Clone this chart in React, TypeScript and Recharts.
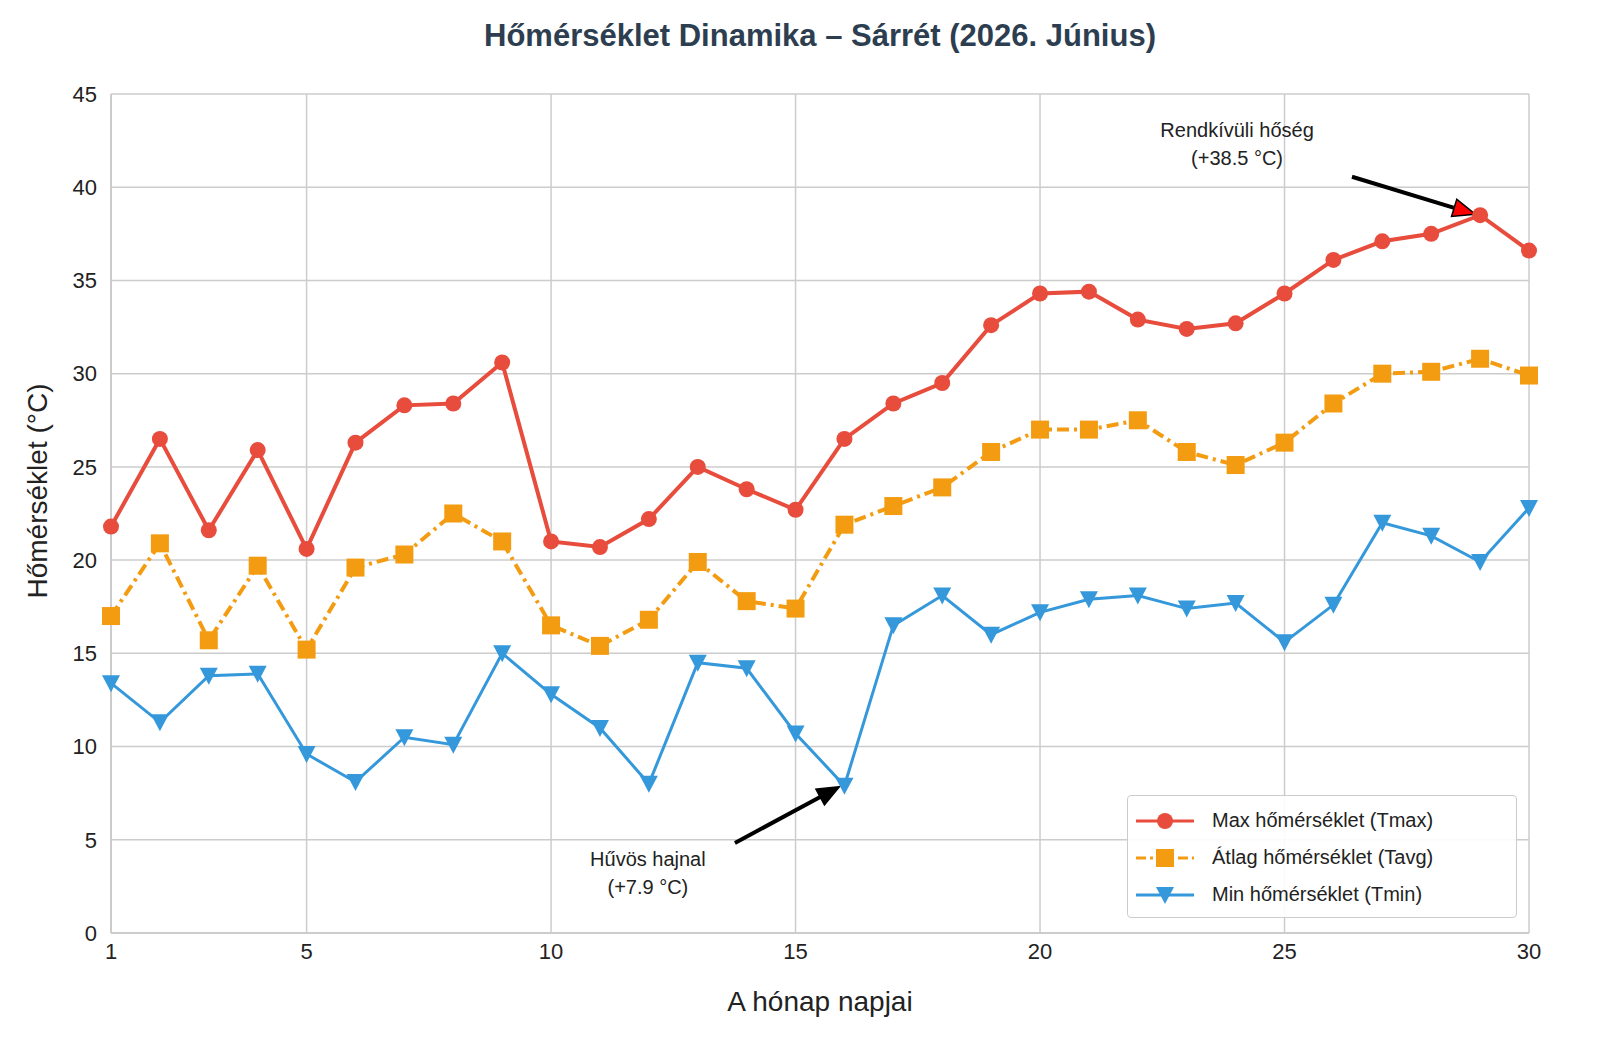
import React from 'react';
import { LineChart, Line, XAxis, YAxis, CartesianGrid, ReferenceLine, ReferenceDot } from 'recharts';

const days = Array.from({ length: 30 }, (_, i) => i + 1);
const tmax = [21.8, 26.5, 21.6, 25.9, 20.6, 26.3, 28.3, 28.4, 30.6, 21.0, 20.7, 22.2, 25.0, 23.8, 22.7, 26.5, 28.4, 29.5, 32.6, 34.3, 34.4, 32.9, 32.4, 32.7, 34.3, 36.1, 37.1, 37.5, 38.5, 36.6];
const tavg = [17.0, 20.9, 15.7, 19.7, 15.2, 19.6, 20.3, 22.5, 21.0, 16.5, 15.4, 16.8, 19.9, 17.8, 17.4, 21.9, 22.9, 23.9, 25.8, 27.0, 27.0, 27.5, 25.8, 25.1, 26.3, 28.4, 30.0, 30.1, 30.8, 29.9];
const tmin = [13.4, 11.3, 13.8, 13.9, 9.6, 8.1, 10.5, 10.1, 15.0, 12.8, 11.0, 8.0, 14.5, 14.2, 10.7, 7.9, 16.5, 18.1, 16.0, 17.2, 17.9, 18.1, 17.4, 17.7, 15.6, 17.6, 22.0, 21.3, 19.9, 22.8];
const xTicks = [1, 5, 10, 15, 20, 25, 30];
const yTicks = [0, 5, 10, 15, 20, 25, 30, 35, 40, 45];

const data = days.map((d, i) => ({ day: d, tmax: tmax[i], tavg: tavg[i], tmin: tmin[i] }));

const FONT = 'Arial, "Liberation Sans", sans-serif';
const RED = '#e74c3c', ORANGE = '#f39c12', BLUE = '#3498db';

const Circle = (p: any) => <circle cx={p.cx} cy={p.cy} r={8} fill={RED} />;
const Square = (p: any) => <rect x={p.cx - 9} y={p.cy - 9} width={18} height={18} fill={ORANGE} />;
const Tri = (p: any) => <polygon points={`${p.cx - 9},${p.cy - 8} ${p.cx + 9},${p.cy - 8} ${p.cx},${p.cy + 9}`} fill={BLUE} />;

const arrow = (fill: string) => (p: any) => {
  const { x1, y1, x2, y2 } = p;
  const a = Math.atan2(y2 - y1, x2 - x1);
  const L = 22, W = 9;
  const bx = x2 - L * Math.cos(a), by = y2 - L * Math.sin(a);
  const nx = -Math.sin(a) * W, ny = Math.cos(a) * W;
  return (
    <g>
      <line x1={x1} y1={y1} x2={bx} y2={by} stroke="#000" strokeWidth={4} />
      <polygon points={`${x2},${y2} ${bx + nx},${by + ny} ${bx - nx},${by - ny}`} fill={fill} stroke="#000" strokeWidth={1.5} />
    </g>
  );
};

const txt = (s: string) => (p: any) => (
  <text x={p.cx} y={p.cy} textAnchor="middle" dominantBaseline="middle" fontSize={20} fill="#222" fontFamily={FONT}>{s}</text>
);

const legendItems = [
  { label: 'Max hőmérséklet (Tmax)', color: RED, dash: undefined, M: Circle },
  { label: 'Átlag hőmérséklet (Tavg)', color: ORANGE, dash: '10 4 3 4', M: Square },
  { label: 'Min hőmérséklet (Tmin)', color: BLUE, dash: undefined, M: Tri },
];

const LegendBox = () => (
  <div style={{ position: 'absolute', left: 1127, top: 795, width: 390, height: 123, background: 'rgba(255,255,255,0.9)', border: '1px solid #ccc', borderRadius: 4, boxSizing: 'border-box', padding: '6px 0 0 6px', fontFamily: FONT, fontSize: 20, color: '#222' }}>
    {legendItems.map((it) => (
      <div key={it.label} style={{ display: 'flex', alignItems: 'center', height: 37 }}>
        <svg width={62} height={24}>
          <line x1={2} y1={12} x2={60} y2={12} stroke={it.color} strokeWidth={3} strokeDasharray={it.dash} />
          <it.M cx={31} cy={12} />
        </svg>
        <span style={{ marginLeft: 16 }}>{it.label}</span>
      </div>
    ))}
  </div>
);

export default function App() {
  return (
    <div style={{ position: 'absolute', left: 0, top: 0, width: 1600, height: 1058, background: '#fff', overflow: 'hidden' }}>
      <LineChart width={1600} height={1058} data={data} margin={{ top: 94, right: 71, left: 51, bottom: 85 }}>
        <CartesianGrid stroke="#cccccc" strokeWidth={1.5} />
        <XAxis dataKey="day" type="number" domain={[1, 30]} ticks={xTicks} height={40} stroke="#cccccc" strokeWidth={2}
          tick={{ fill: '#222', fontSize: 22, fontFamily: FONT }} tickLine={false} tickMargin={4}
          label={{ value: 'A hónap napjai', position: 'insideBottom', offset: -38, fill: '#222', fontSize: 28, fontFamily: FONT }} />
        <YAxis type="number" domain={[0, 45]} ticks={yTicks} width={60} stroke="#cccccc" strokeWidth={2}
          tick={{ fill: '#222', fontSize: 22, fontFamily: FONT }} tickLine={false} tickMargin={8}
          label={{ value: 'Hőmérséklet (°C)', angle: -90, position: 'insideLeft', offset: -14, dy: 85, fill: '#222', fontSize: 28, fontFamily: FONT }} />
        <Line dataKey="tmax" stroke={RED} strokeWidth={4} dot={<Circle />} activeDot={false} isAnimationActive={false} />
        <Line dataKey="tavg" stroke={ORANGE} strokeWidth={4} strokeDasharray="12 5 3 5" dot={<Square />} activeDot={false} isAnimationActive={false} />
        <Line dataKey="tmin" stroke={BLUE} strokeWidth={3} dot={<Tri />} activeDot={false} isAnimationActive={false} />
        <ReferenceLine segment={[{ x: 26.38, y: 40.56 }, { x: 28.9, y: 38.55 }]} shape={arrow('#ff0000')} ifOverflow="visible" />
        <ReferenceLine segment={[{ x: 13.76, y: 4.83 }, { x: 15.9, y: 7.85 }]} shape={arrow('#000')} ifOverflow="visible" />
        <ReferenceDot x={24.03} y={43.0} shape={txt('Rendkívüli hőség')} ifOverflow="visible" />
        <ReferenceDot x={24.03} y={41.5} shape={txt('(+38.5 °C)')} ifOverflow="visible" />
        <ReferenceDot x={11.98} y={3.9} shape={txt('Hűvös hajnal')} ifOverflow="visible" />
        <ReferenceDot x={11.98} y={2.4} shape={txt('(+7.9 °C)')} ifOverflow="visible" />
      </LineChart>
      <div style={{ position: 'absolute', top: 18, left: 0, width: 1640, maxWidth: 1640, textAlign: 'center', fontFamily: FONT, fontWeight: 'bold', fontSize: 31, color: '#2c3e50' }}>
        Hőmérséklet Dinamika – Sárrét (2026. Június)
      </div>
      <LegendBox />
    </div>
  );
}
